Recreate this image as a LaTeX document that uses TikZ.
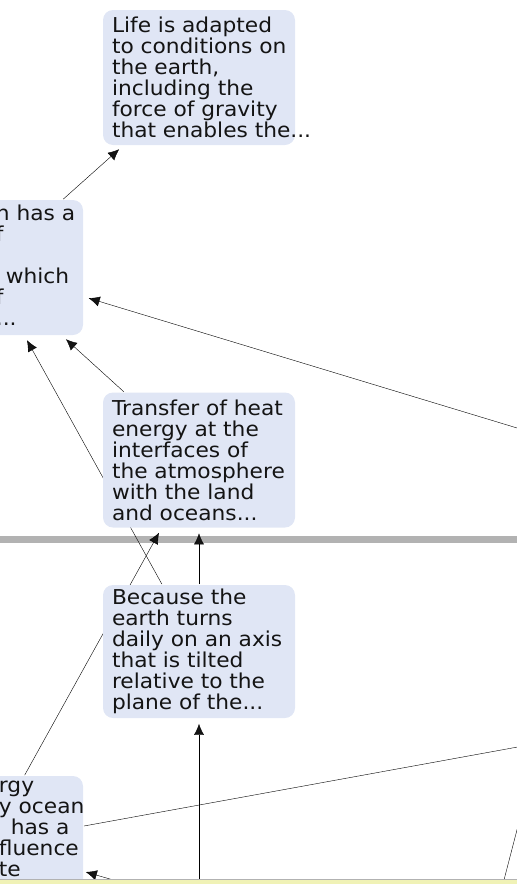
\documentclass[tikz,border=0pt]{standalone}
\usepackage{fontspec}
\newfontfamily\mapfont[FakeStretch=1.06]{DejaVu Sans}
\usetikzlibrary{arrows.meta,backgrounds}
\definecolor{boxfill}{RGB}{224,230,245}
\definecolor{inktext}{RGB}{20,20,20}
\definecolor{barcol}{RGB}{178,178,178}
\definecolor{stripfill}{RGB}{240,242,182}
\begin{document}
\begin{tikzpicture}[x=1pt, y=-1pt, line width=1.8pt, draw=inktext,
    concept/.style = {fill=boxfill, rounded corners=10pt, minimum width=192pt, minimum height=135pt,
                      text width=174pt, inner xsep=9pt, align=left, text=inktext,
                      font=\mapfont\fontsize{20.5}{21}\selectfont},
    cuttext/.style = {inner sep=0pt, align=left, anchor=north west, text=inktext,
                      font=\mapfont\fontsize{20.5}{21}\selectfont},
    link/.style = {-{Latex[length=11pt,width=10pt]}, shorten >=5pt}]
	\useasboundingbox (0,0) rectangle (517,884);
	% concepts
	\node[concept] (life) at (199,77.5) {Life is adapted\\\mbox{to conditions on}\\the earth,\\including the\\force of gravity\\\mbox{that enables the...}};
	\node[concept] (earth) at (-13,267.5) {};
	\node[cuttext] (earthtext) at (-5,204.5) {n has a\\f\\\mbox{}\\\hspace*{10pt}which\\f\\...};
	\node[concept] (heat) at (199,460) {Transfer of heat\\energy at the\\interfaces of\\\mbox{the atmosphere}\\with the land\\and oceans...};
	\node[concept, minimum height=133pt] (turns) at (199,651.5) {Because the\\earth turns\\\mbox{daily on an axis}\\that is tilted\\relative to the\\plane of the...};
	\node[concept] (ocean) at (-13,843.5) {};
	\node[cuttext] (oceantext) at (-2,780.5) {rgy\\y ocean\\\hspace*{12pt}has a\\fluence\\te};
	% free ends beyond the page
	\coordinate (east1) at (560,441);
	\coordinate (east2) at (600,732);
	\coordinate (east3) at (540,741);
	\coordinate (south1) at (199,950);
	\coordinate (south2) at (300,934);
	\coordinate (south3) at (490,934);
	\begin{scope}[on background layer]
		\fill[barcol] (0,536) rectangle (517,543);
		\draw[link] (earth) -- (life);
		\draw[link] (east1) -- (earth);
		\draw[link] (heat) -- (earth);
		\draw[link] (turns) -- (earth);
		\draw[link] (ocean) -- (heat);
		\draw[link] (turns) -- (heat);
		\draw[link] (south1) -- (turns);
		\draw (ocean) -- (east2);
		\draw[link, shorten >=2pt] (south2) -- (ocean);
		\draw (south3) -- (east3);
	\end{scope}
	% status strip
	\fill[stripfill] (0,879) rectangle (517,884);
	\draw[barcol, line width=0.8pt] (0,879) -- (517,879);
\end{tikzpicture}
\end{document}
